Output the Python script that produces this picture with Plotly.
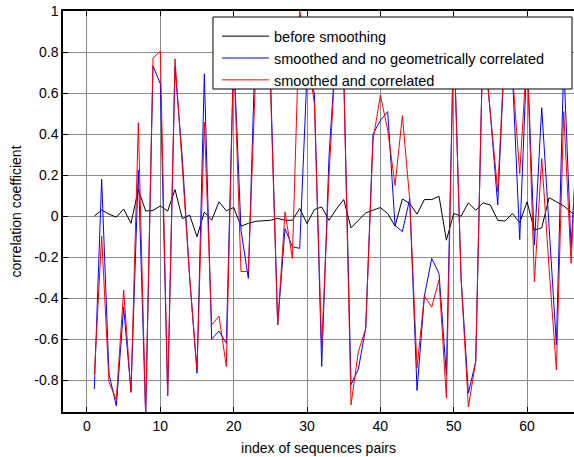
import plotly.graph_objects as go

x_index = list(range(1, 68))

before_smoothing = [
    0.0, 0.03, 0.01, -0.005, 0.035, -0.035, 0.13, 0.025, 0.028, 0.05,
    0.025, 0.13, -0.012, 0.005, -0.1, 0.02, -0.02, 0.07, 0.026, 0.042,
    -0.049, -0.035, -0.025, -0.022, -0.02, -0.011, -0.02, -0.02, 0.037, -0.036,
    0.032, 0.045, -0.02, 0.035, 0.081, -0.057, -0.02, 0.016, 0.029, 0.042,
    0.013, -0.049, 0.084, 0.062, 0.01, 0.081, 0.081, 0.097, -0.117, 0.013,
    0.0, 0.065, 0.029, 0.065, 0.054, -0.02, -0.024, 0.013, -0.032, 0.07,
    -0.068, -0.057, 0.09, 0.07, 0.05, 0.02, 0.0,
]

smoothed_no_geo = [
    -0.843, 0.18, -0.77, -0.925, -0.444, -0.855, 0.224, -0.97, 0.733, 0.646,
    -0.876, 0.727, 0.28, -0.3, -0.766, 0.694, -0.6, -0.56, -0.62, 0.8,
    -0.068, -0.303, 0.9, 0.8, 0.7, -0.53, -0.06, -0.149, -0.157, 0.7,
    0.6, -0.733, 0.29, 0.85, 0.7, -0.822, -0.746, -0.547, 0.40, 0.467,
    0.51, -0.045, -0.076, 0.084, -0.85, -0.39, -0.206, -0.28, -0.774, 0.9,
    -0.3, -0.863, -0.709, 0.9, 0.5, 0.054, 0.85, 0.7, -0.114, 0.8,
    -0.141, 0.529, -0.05, -0.628, 0.75, -0.157, 0.5,
]

smoothed_correlated = [
    -0.774, -0.097, -0.81, -0.895, -0.36, -0.86, 0.456, -0.97, 0.772, 0.804,
    -0.874, 0.767, 0.24, -0.3, -0.75, 0.459, -0.53, -0.487, -0.733, 0.8,
    -0.27, -0.27, 0.7, 0.85, 0.65, -0.53, 0.021, -0.206, 1.0, 0.8,
    0.55, -0.636, 0.2, 0.85, 0.7, -0.92, -0.66, -0.55, 0.37, 0.59,
    0.42, 0.15, 0.49, 0.08, -0.74, -0.39, -0.444, -0.31, -0.887, 0.9,
    -0.3, -0.93, -0.709, 0.9, 0.5, 0.12, 0.85, 0.7, 0.207, 0.8,
    -0.32, 0.281, -0.25, -0.75, 0.51, -0.23, 0.55,
]

x_ticks = [0, 10, 20, 30, 40, 50, 60]
y_ticks = [-0.8, -0.6, -0.4, -0.2, 0, 0.2, 0.4, 0.6, 0.8, 1]
y_tick_labels = ["-0.8", "-0.6", "-0.4", "-0.2", "0", "0.2", "0.4", "0.6", "0.8", "1"]

FONT = "Liberation Sans, Arial, sans-serif"

fig = go.Figure()
fig.add_trace(go.Scatter(x=x_index, y=before_smoothing, mode="lines",
                         line=dict(color="black", width=1), name="before smoothing"))
fig.add_trace(go.Scatter(x=x_index, y=smoothed_no_geo, mode="lines",
                         line=dict(color="#0000ff", width=1),
                         name="smoothed and no geometrically correlated"))
fig.add_trace(go.Scatter(x=x_index, y=smoothed_correlated, mode="lines",
                         line=dict(color="#ff0000", width=1),
                         name="smoothed and correlated"))

axis_common = dict(
    showgrid=True, gridcolor="#8c8c8c", gridwidth=1,
    zeroline=False, showline=True, linecolor="black", linewidth=1.5,
    ticks="inside", ticklen=5, tickcolor="black", tickwidth=1,
    tickfont=dict(family=FONT, size=14, color="black"),
    automargin=False,
)

fig.update_xaxes(
    range=[-3.27, 66.4], tickvals=x_ticks, mirror="ticks",
    title=dict(text="index of sequences pairs", font=dict(family=FONT, size=14, color="black"), standoff=11),
    **axis_common,
)
fig.update_yaxes(
    range=[-0.955, 1.0005], tickvals=y_ticks, ticktext=y_tick_labels, mirror=False,
    title=dict(text="correlation coefficient", font=dict(family=FONT, size=14, color="black"), standoff=9),
    **axis_common,
)

# legend frame (white box with black border, drawn over the lines)
fig.add_shape(
    type="rect", xref="paper", yref="paper",
    x0=0.2935, x1=0.9961, y0=0.8055, y1=0.985,
    line=dict(color="black", width=1), fillcolor="white", layer="above",
)

fig.update_layout(
    width=574, height=457,
    margin=dict(l=63, r=0, t=11, b=45),
    paper_bgcolor="white", plot_bgcolor="white",
    font=dict(family=FONT, size=14, color="black"),
    showlegend=True,
    legend=dict(
        x=0.3014, xanchor="left", y=0.977, yanchor="top",
        bgcolor="rgba(0,0,0,0)", borderwidth=0,
        font=dict(family=FONT, size=14.5, color="black"),
        itemwidth=47, tracegroupgap=0,
    ),
)

fig.write_html(
    "out.html",
    config={"displayModeBar": False},
    post_script="document.body.style.margin='0';document.body.style.padding='0';document.body.style.overflow='hidden';",
)
